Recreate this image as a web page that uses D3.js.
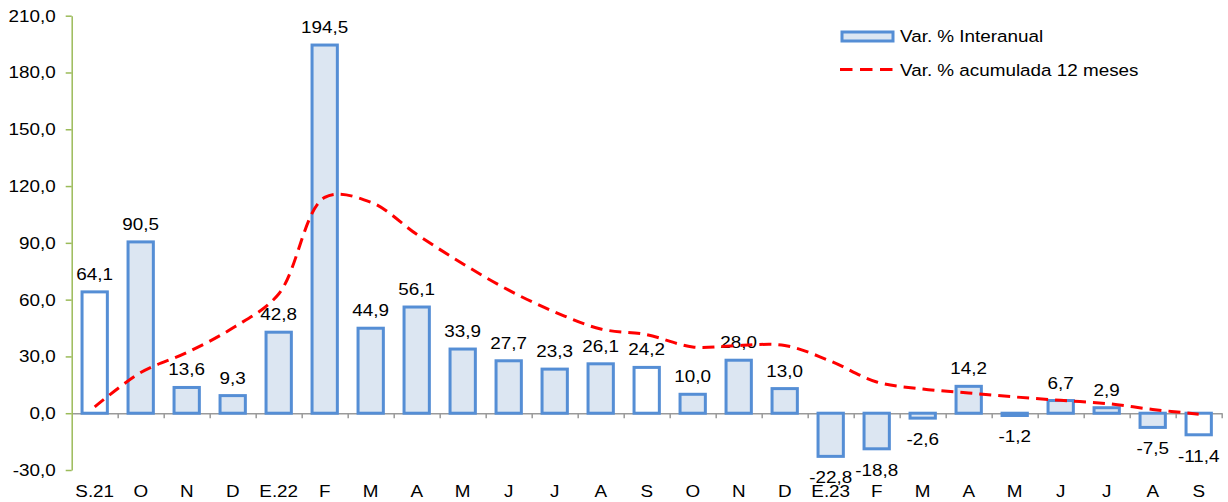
<!DOCTYPE html>
<html>
<head>
<meta charset="utf-8">
<script src="https://cdn.jsdelivr.net/npm/d3@7"></script>
<style>
  html, body { margin: 0; padding: 0; background: #fff; }
  svg { display: block; font-family: "Liberation Sans", Arial, sans-serif; }
</style>
</head>
<body>
<svg id="chart" width="1228" height="502"></svg>
<script>
// months, Sep 2021 .. Sep 2023
const months = ["S.21","O","N","D","E.22","F","M","A","M","J","J","A","S","O","N","D","E.23","F","M","A","M","J","J","A","S"];
// Var. % Interanual
const interanual = [64.1, 90.5, 13.6, 9.3, 42.8, 194.5, 44.9, 56.1, 33.9, 27.7, 23.3, 26.1, 24.2, 10.0, 28.0, 13.0, -22.8, -18.8, -2.6, 14.2, -1.2, 6.7, 2.9, -7.5, -11.4];
// Var. % acumulada 12 meses
const acumulada = [3.3, 21.5, 32, 45, 63, 114, 111.5, 94.5, 79, 65, 53.5, 44.5, 41.5, 35, 35.8, 35.8, 27.5, 16.5, 12.8, 10.7, 8.6, 6.8, 5.1, 2.0, -0.5];
// bars drawn with white fill
const whiteBars = [0, 12, 24];
const yTicks = [-30, 0, 30, 60, 90, 120, 150, 180, 210];

const svg = d3.select("#chart");
const size = {width: 1228, height: 502};
const margin = {left: 71.7, right: 6.3, top: 15.7, bottom: 32};
const sx = 1.11; // text in the picture is a bit wide

const loc = d3.formatLocale({decimal: ",", thousands: ".", grouping: [3], currency: ["", ""], minus: "-"});
const fmt = loc.format(".1f");

// widen a text around its own anchor point
function stretch(sel) {
  sel.each(function() {
    const t = d3.select(this);
    const tx = +t.attr("x") || 0, ty = +t.attr("y") || 0;
    t.attr("x", 0).attr("y", 0).attr("transform", `translate(${tx},${ty}) scale(${sx},1)`);
  });
}

const x = d3.scaleBand()
  .domain(d3.range(months.length))
  .range([margin.left, size.width - margin.right])
  .paddingInner(0.45)
  .paddingOuter(0.225);

// category boundaries for the tick marks
const xb = d3.scaleLinear()
  .domain([0, months.length])
  .range([margin.left, size.width - margin.right]);

const y = d3.scaleLinear()
  .domain([-30, 210])
  .range([size.height - margin.bottom, margin.top]);

const g = svg.append("g").attr("id", "bar-chart");

// x axis line and ticks at zero
const xAxis = g.append("g")
  .attr("transform", `translate(0, ${y(0)})`)
  .call(d3.axisBottom(xb).tickValues(d3.range(1, months.length + 1)).tickSize(5).tickSizeOuter(0).tickFormat(""));
xAxis.select(".domain").attr("stroke", "#9a9a9a").attr("stroke-width", 1.5);
xAxis.selectAll(".tick line").attr("stroke", "#9a9a9a").attr("stroke-width", 1.5);

// y axis
const yAxis = g.append("g")
  .attr("transform", `translate(${margin.left}, 0)`)
  .call(d3.axisLeft(y).tickValues(yTicks).tickSize(6).tickSizeOuter(0).tickPadding(10).tickFormat(fmt));
yAxis.select(".domain").attr("stroke", "#9BBB59").attr("stroke-width", 1.5);
yAxis.selectAll(".tick line").attr("stroke", "#9BBB59").attr("stroke-width", 1.5);
yAxis.selectAll("text").attr("fill", "#000").style("font-size", "17px").style("font-family", "Liberation Sans, Arial, sans-serif")
  .call(stretch);

// bars
g.selectAll("rect.bar")
  .data(interanual)
  .join("rect")
  .attr("class", "bar")
  .attr("x", (d, i) => x(i))
  .attr("width", x.bandwidth())
  .attr("y", d => y(Math.max(0, d)))
  .attr("height", d => Math.abs(y(d) - y(0)))
  .attr("fill", (d, i) => whiteBars.includes(i) ? "#ffffff" : "#DCE6F2")
  .attr("stroke", "#558ED5")
  .attr("stroke-width", 3);

// value labels
g.selectAll("text.val")
  .data(interanual)
  .join("text")
  .attr("class", "val")
  .attr("x", (d, i) => x(i) + x.bandwidth() / 2)
  .attr("y", d => d >= 0 ? y(d) - 12 : y(d) + 27)
  .attr("text-anchor", "middle")
  .style("font-size", "17px")
  .attr("fill", "#000")
  .text(d => fmt(d))
  .call(stretch);

// dashed line
const line = d3.line()
  .x((d, i) => x(i) + x.bandwidth() / 2)
  .y(d => y(d))
  .curve(d3.curveCatmullRom.alpha(0.5));

g.append("path")
  .datum(acumulada)
  .attr("d", line)
  .attr("fill", "none")
  .attr("stroke", "#FF0000")
  .attr("stroke-width", 3)
  .attr("stroke-dasharray", "12,7");

// month labels
g.selectAll("text.month")
  .data(months)
  .join("text")
  .attr("class", "month")
  .attr("x", (d, i) => x(i) + x.bandwidth() / 2)
  .attr("y", 497)
  .attr("text-anchor", "middle")
  .style("font-size", "17px")
  .attr("fill", "#000")
  .text(d => d)
  .call(stretch);

// legend
const legend = g.append("g").attr("id", "legend");
legend.append("rect")
  .attr("x", 842).attr("y", 32).attr("width", 51).attr("height", 9)
  .attr("fill", "#DCE6F2").attr("stroke", "#558ED5").attr("stroke-width", 3);
legend.append("text")
  .attr("x", 900).attr("y", 42)
  .style("font-size", "17px").attr("fill", "#000")
  .text("Var. % Interanual")
  .call(stretch);
legend.append("line")
  .attr("x1", 840).attr("x2", 894).attr("y1", 69.5).attr("y2", 69.5)
  .attr("stroke", "#FF0000").attr("stroke-width", 3).attr("stroke-dasharray", "12.5,7.5");
legend.append("text")
  .attr("x", 900).attr("y", 76)
  .style("font-size", "17px").attr("fill", "#000")
  .text("Var. % acumulada 12 meses")
  .call(stretch);
</script>
</body>
</html>
